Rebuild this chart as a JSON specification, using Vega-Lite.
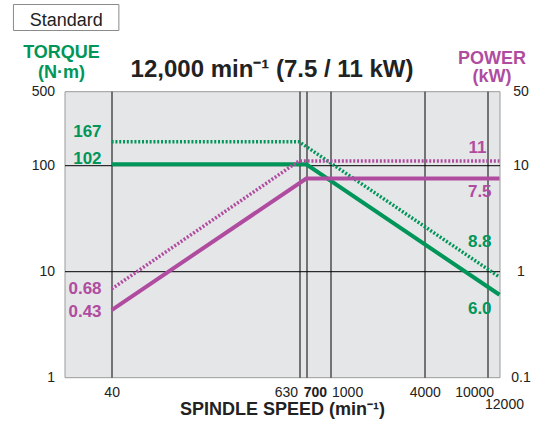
{
  "$schema": "https://vega.github.io/schema/vega-lite/v6.json",
  "width": 435,
  "height": 286,
  "autosize": "none",
  "padding": {"left": 64.5, "top": 91.2, "right": 38.5, "bottom": 44.8},
  "background": "white",
  "config": {
    "font": "Liberation Sans",
    "view": {"fill": "#e5e6e8", "stroke": "#9b9b9b", "strokeWidth": 1}
  },
  "title": {
    "text": "12,000 min⁻¹ (7.5 / 11 kW)",
    "frame": "group",
    "anchor": "middle",
    "fontSize": 24,
    "fontWeight": "bold",
    "color": "#222222",
    "baseline": "alphabetic",
    "offset": -97,
    "dx": -10
  },
  "datasets": {
    "torqueLines": [
      {"speed": 40, "torque": 102, "style": "solid"},
      {"speed": 700, "torque": 102, "style": "solid"},
      {"speed": 12000, "torque": 6.0, "style": "solid"},
      {"speed": 40, "torque": 167, "style": "dotted"},
      {"speed": 630, "torque": 167, "style": "dotted"},
      {"speed": 12000, "torque": 8.8, "style": "dotted"}
    ],
    "powerLines": [
      {"speed": 40, "power": 0.43, "style": "solid"},
      {"speed": 700, "power": 7.5, "style": "solid"},
      {"speed": 12000, "power": 7.5, "style": "solid"},
      {"speed": 40, "power": 0.68, "style": "dotted"},
      {"speed": 630, "power": 11, "style": "dotted"},
      {"speed": 12000, "power": 11, "style": "dotted"}
    ],
    "torqueLabels": [
      {"speed": 34.5, "torque": 184.9, "label": "167"},
      {"speed": 34.5, "torque": 102.8, "label": "102"},
      {"speed": 10680, "torque": 17.06, "label": "8.8"},
      {"speed": 10680, "torque": 3.95, "label": "6.0"}
    ],
    "powerLabels": [
      {"speed": 34.5, "power": 0.607, "label": "0.68"},
      {"speed": 34.5, "power": 0.373, "label": "0.43"},
      {"speed": 9900, "power": 12.98, "label": "11"},
      {"speed": 10680, "power": 5.05, "label": "7.5"}
    ],
    "badge": [{"label": "Standard"}]
  },
  "layer": [
    {
      "layer": [
        {
          "data": {"name": "torqueLines"},
          "transform": [{"filter": "datum.style === 'dotted'"}],
          "mark": {"type": "line", "color": "#00965a", "strokeWidth": 3.5, "strokeDash": [2, 1.8], "clip": false},
          "encoding": {
            "x": {
              "field": "speed", "type": "quantitative",
              "scale": {"type": "log", "domain": [20, 12000], "nice": false},
              "axis": {
                "values": [40, 630, 700, 1000, 4000, 10000, 12000],
                "format": "~g",
                "title": "SPINDLE SPEED (min⁻¹)",
                "titleFontSize": 18,
                "titleFontWeight": "bold",
                "titleColor": "#222222",
                "titleBaseline": "alphabetic",
                "titleY": 37.7,
                "domain": false,
                "ticks": false,
                "grid": true,
                "gridColor": "#000000",
                "gridWidth": 1,
                "gridOpacity": {"condition": {"test": "datum.value == 12000", "value": 0}, "value": 1},
                "labelFontSize": 14,
                "labelColor": "#222222",
                "labelAngle": 0,
                "labelOverlap": false,
                "labelBound": false,
                "labelFlush": false,
                "labelPadding": {"condition": {"test": "datum.value == 12000", "value": 20}, "value": 8},
                "labelAlign": {"condition": [
                  {"test": "datum.value == 630", "value": "right"},
                  {"test": "datum.value == 700 || datum.value == 1000", "value": "left"}
                ], "value": "center"},
                "labelOffset": {"condition": [
                  {"test": "datum.value == 630", "value": -1.5},
                  {"test": "datum.value == 700", "value": -3},
                  {"test": "datum.value == 1000", "value": 1},
                  {"test": "datum.value == 10000", "value": -13},
                  {"test": "datum.value == 12000", "value": 4.5}
                ], "value": 0},
                "labelFontWeight": {"condition": {"test": "datum.value == 700", "value": "bold"}, "value": "normal"}
              }
            },
            "y": {
              "field": "torque", "type": "quantitative",
              "scale": {"type": "log", "domain": [1, 500], "nice": false},
              "axis": {
                "orient": "left",
                "values": [1, 10, 100, 500],
                "format": "~g",
                "domain": false,
                "ticks": false,
                "grid": true,
                "gridColor": "#000000",
                "gridWidth": 1,
                "gridOpacity": {"condition": {"test": "datum.value == 10 || datum.value == 100", "value": 1}, "value": 0},
                "labelFontSize": 14,
                "labelColor": "#222222",
                "labelPadding": 10,
                "labelFlush": false,
                "labelBound": false,
                "title": ["TORQUE", "(N·m)"],
                "titleColor": "#00965a",
                "titleFontSize": 18,
                "titleFontWeight": "bold",
                "titleAngle": 0,
                "titleAlign": "center",
                "titleBaseline": "top",
                "titleX": -3.5,
                "titleY": -47.5,
                "titleLineHeight": 20
              }
            }
          }
        },
        {
          "data": {"name": "torqueLines"},
          "transform": [{"filter": "datum.style === 'solid'"}],
          "mark": {"type": "line", "color": "#00965a", "strokeWidth": 4, "clip": false},
          "encoding": {
            "x": {"field": "speed", "type": "quantitative"},
            "y": {"field": "torque", "type": "quantitative"}
          }
        },
        {
          "data": {"name": "torqueLabels"},
          "mark": {"type": "text", "align": "right", "baseline": "alphabetic", "fontSize": 17, "fontWeight": "bold", "color": "#00965a", "clip": false},
          "encoding": {
            "x": {"field": "speed", "type": "quantitative"},
            "y": {"field": "torque", "type": "quantitative"},
            "text": {"field": "label"}
          }
        },
        {
          "data": {"name": "badge"},
          "mark": {"type": "rect", "fill": "white", "stroke": "#8a8a8a", "strokeWidth": 1, "clip": false},
          "encoding": {
            "x": {"datum": 9.44, "type": "quantitative"},
            "x2": {"datum": 44.5},
            "y": {"datum": 3290, "type": "quantitative"},
            "y2": {"datum": 1870}
          }
        },
        {
          "data": {"name": "badge"},
          "mark": {"type": "text", "align": "center", "baseline": "alphabetic", "fontSize": 18, "color": "#222222", "clip": false},
          "encoding": {
            "x": {"datum": 20.5, "type": "quantitative"},
            "y": {"datum": 2075, "type": "quantitative"},
            "text": {"field": "label"}
          }
        }
      ]
    },
    {
      "layer": [
        {
          "data": {"name": "powerLines"},
          "transform": [{"filter": "datum.style === 'dotted'"}],
          "mark": {"type": "line", "color": "#b04ca0", "strokeWidth": 3.5, "strokeDash": [2, 1.8], "clip": false},
          "encoding": {
            "x": {"field": "speed", "type": "quantitative"},
            "y": {
              "field": "power", "type": "quantitative",
              "scale": {"type": "log", "domain": [0.1, 50], "nice": false},
              "axis": {
                "orient": "right",
                "values": [0.1, 1, 10, 50],
                "format": "~g",
                "domain": false,
                "ticks": false,
                "grid": false,
                "labelFontSize": 14,
                "labelColor": "#222222",
                "labelAlign": "center",
                "labelPadding": 21,
                "labelFlush": false,
                "labelBound": false,
                "title": ["POWER", "(kW)"],
                "titleColor": "#b04ca0",
                "titleFontSize": 18,
                "titleFontWeight": "bold",
                "titleAngle": 0,
                "titleAlign": "center",
                "titleBaseline": "top",
                "titleX": -8,
                "titleY": -42,
                "titleLineHeight": 18
              }
            }
          }
        },
        {
          "data": {"name": "powerLines"},
          "transform": [{"filter": "datum.style === 'solid'"}],
          "mark": {"type": "line", "color": "#b04ca0", "strokeWidth": 4, "clip": false},
          "encoding": {
            "x": {"field": "speed", "type": "quantitative"},
            "y": {"field": "power", "type": "quantitative"}
          }
        },
        {
          "data": {"name": "powerLabels"},
          "mark": {"type": "text", "align": "right", "baseline": "alphabetic", "fontSize": 17, "fontWeight": "bold", "color": "#b04ca0", "clip": false},
          "encoding": {
            "x": {"field": "speed", "type": "quantitative"},
            "y": {"field": "power", "type": "quantitative"},
            "text": {"field": "label"}
          }
        }
      ]
    }
  ],
  "resolve": {"scale": {"y": "independent"}, "axis": {"y": "independent"}}
}
